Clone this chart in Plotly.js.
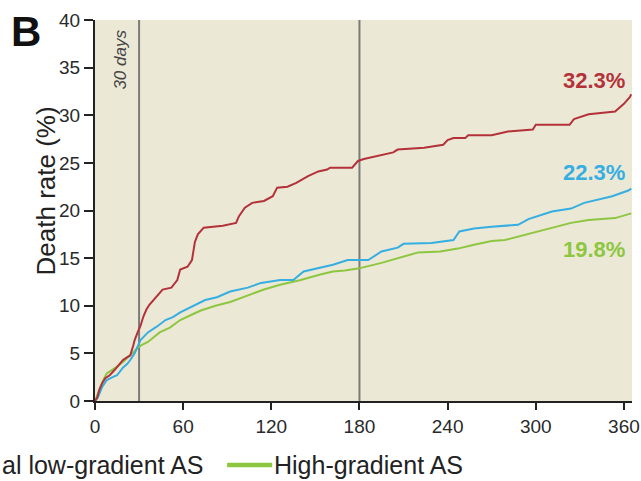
<!DOCTYPE html>
<html>
<head>
<meta charset="utf-8">
<script src="https://cdn.plot.ly/plotly-3.0.1.min.js"></script>
<style>html,body{margin:0;padding:0;background:#fff;}#chart{width:641px;height:481px;}</style>
</head>
<body>
<div id="chart"></div>
<script>
// Classical low-gradient AS (red)
const redDays = [0,1.4,3,5,7,10,13,15,17,19,22,24,26,27,29,31,33,35,37,40,42,46,52,56,58,63,66,68,70,74,87,96,98,102,107,115,121,124,131,137,145,152,158,160,175,179,183,191,203,206,224,237,240,244,252,254,270,281,298,300,323,326,336,354,360,364,365];
const redVals = [0,0.3,1.2,1.9,2.4,2.7,3.2,3.6,4.0,4.3,4.6,4.8,5.8,6.4,7.2,7.9,8.9,9.6,10.1,10.6,11.0,11.7,11.9,12.7,13.8,14.1,14.8,16.7,17.5,18.2,18.4,18.7,19.4,20.3,20.8,21.0,21.5,22.4,22.5,22.9,23.6,24.1,24.3,24.5,24.5,25.2,25.4,25.7,26.1,26.4,26.6,26.9,27.4,27.6,27.6,27.9,27.9,28.3,28.5,29.0,29.0,29.6,30.1,30.4,31.2,31.9,32.2];
// Paradoxical low-gradient AS (blue)
const blueDays = [0,2,5,8,12,15,19,22,24,27,29,31,36,42,48,53,58,63,70,75,83,92,104,113,126,135,142,154,162,172,186,195,206,210,229,244,248,258,270,288,295,311,324,333,352,363,365];
const blueVals = [0,0.4,1.5,2.2,2.5,2.7,3.5,3.9,4.3,5.0,5.7,6.4,7.2,7.8,8.5,8.8,9.3,9.7,10.2,10.6,10.9,11.5,11.9,12.4,12.7,12.7,13.6,14.0,14.3,14.8,14.8,15.7,16.1,16.5,16.6,16.9,17.8,18.1,18.3,18.5,19.1,19.9,20.2,20.8,21.5,22.1,22.3];
// High-gradient AS (green)
const greenDays = [0,2,5,8,12,15,19,22,26,29,32,36,40,44,51,58,65,72,82,92,106,115,126,140,154,162,170,179,195,206,220,235,247,258,270,279,302,324,336,354,365];
const greenVals = [0,0.8,2.0,2.9,3.3,3.6,4.1,4.5,5.1,5.6,5.9,6.2,6.7,7.2,7.7,8.5,9.0,9.5,10.0,10.4,11.2,11.7,12.2,12.7,13.3,13.6,13.7,13.9,14.5,15.0,15.6,15.7,16.0,16.4,16.8,16.9,17.8,18.7,19.0,19.2,19.7];

const endLabels = ["32.3%","22.3%","19.8%"];
const endLabelY = [33.6, 24.0, 15.9];
const xTicks = [0,60,120,180,240,300,360];
const yTicks = [0,5,10,15,20,25,30,35,40];
const markerDays = [30,180];

const RED = "#b3323a", BLUE = "#35aee2", GREEN = "#8dc63f";
const SANS = "Liberation Sans, Arial, sans-serif";

const traces = [
  {x: greenDays, y: greenVals, name: "High-gradient AS", mode: "lines", line: {color: GREEN, width: 2}},
  {x: blueDays, y: blueVals, name: "Paradoxical low-gradient AS", mode: "lines", line: {color: BLUE, width: 2}},
  {x: redDays, y: redVals, name: "Classical low-gradient AS", mode: "lines", line: {color: RED, width: 2}}
];

const colors = [RED, BLUE, GREEN];
const annotations = endLabels.map((t, i) => ({
  x: 362, y: endLabelY[i], xref: "x", yref: "y", text: "<b>" + t + "</b>", showarrow: false,
  xanchor: "right", yanchor: "middle",
  font: {family: SANS, size: 22, color: colors[i]}
}));
annotations.push(
  {x: 30, y: 40, xref: "x", yref: "y", text: "<i>30 days</i>", showarrow: false, textangle: -90,
   xanchor: "right", yanchor: "top", xshift: -8, yshift: -8,
   font: {family: SANS, size: 17, color: "#444"}},
  {x: -0.1285, y: 0.971, xref: "paper", yref: "paper", text: "<b>B</b>", showarrow: false,
   xanchor: "center", yanchor: "middle",
   font: {family: SANS, size: 42, color: "#111"}},
  {x: -0.0905, y: 0.551, xref: "paper", yref: "paper", text: "Death rate (%)", showarrow: false,
   textangle: -90, xanchor: "center", yanchor: "middle",
   font: {family: SANS, size: 26, color: "#222"}},
  {x: -0.177, y: -0.168, xref: "paper", yref: "paper", text: "al low-gradient AS", showarrow: false,
   xanchor: "left", yanchor: "middle", font: {family: SANS, size: 25, color: "#222"}},
  {x: 0.329, y: -0.168, xref: "paper", yref: "paper", text: "High-gradient AS", showarrow: false,
   xanchor: "left", yanchor: "middle", font: {family: SANS, size: 25, color: "#222"}}
);

const shapes = markerDays.map(d => ({
  type: "line", xref: "x", yref: "paper", x0: d, x1: d, y0: 0, y1: 1,
  line: {color: "#7a7a7a", width: 2}, layer: "below"
}));
shapes.push({type: "line", xref: "paper", yref: "paper", x0: 0.246, x1: 0.33, y0: -0.168, y1: -0.168,
  line: {color: GREEN, width: 4.5}});

const layout = {
  width: 641, height: 481,
  margin: {l: 95, r: 9, t: 20, b: 80},
  paper_bgcolor: "#ffffff",
  plot_bgcolor: "#ece8d6",
  showlegend: false,
  xaxis: {
    range: [0, 365.5], tickvals: xTicks, ticktext: xTicks.map(String),
    showgrid: false, zeroline: false, showline: true, linecolor: "#222", linewidth: 2,
    ticks: "outside", ticklen: 7, tickwidth: 2, tickcolor: "#222", ticklabeloverflow: "allow",
    tickfont: {family: SANS, size: 19, color: "#2a2a2a"}, fixedrange: true
  },
  yaxis: {
    range: [0, 40], tickvals: yTicks, ticktext: yTicks.map(String),
    showgrid: false, zeroline: false, showline: true, linecolor: "#222", linewidth: 2,
    ticks: "outside", ticklen: 9, tickwidth: 2, tickcolor: "#222",
    tickfont: {family: SANS, size: 19, color: "#2a2a2a"},
    fixedrange: true
  },
  annotations: annotations,
  shapes: shapes
};

Plotly.newPlot("chart", traces, layout, {staticPlot: true, displayModeBar: false});
</script>
</body>
</html>
